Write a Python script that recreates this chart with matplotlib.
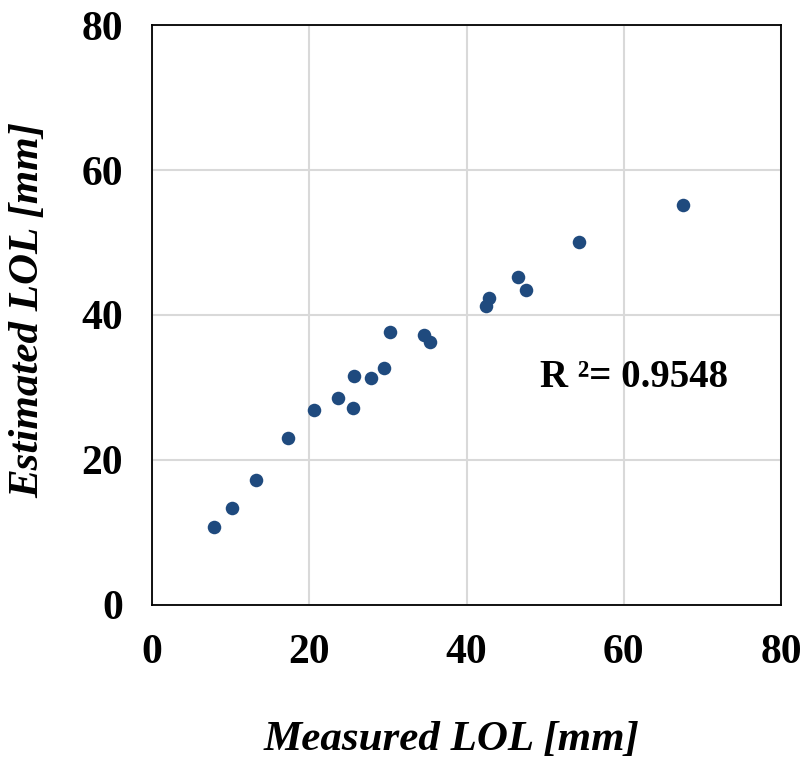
import matplotlib.pyplot as plt

# measured vs estimated LOL (mm)
measured = [7.9, 10.2, 13.2, 17.3, 20.6, 23.7, 25.7, 25.6, 27.8, 29.5,
            30.3, 34.6, 35.4, 42.5, 42.8, 46.6, 47.6, 54.3, 67.5]
estimated = [10.7, 13.4, 17.3, 23.0, 26.9, 28.6, 31.6, 27.2, 31.3, 32.7,
             37.7, 37.2, 36.3, 41.2, 42.3, 45.2, 43.4, 50.1, 55.2]
ticks = [0, 20, 40, 60, 80]
r2_text = "R ²= 0.9548"

plt.rcParams['font.family'] = ['Liberation Serif', 'DejaVu Serif']

fig = plt.figure(figsize=(8.07, 7.65), dpi=100)
ax = fig.add_axes([0.1884, 0.2092, 0.7794, 0.7581])

ax.scatter(measured, estimated, s=95, color='#1f4a7e', zorder=3, linewidths=0)

ax.set_xlim(0, 80)
ax.set_ylim(0, 80)
ax.set_xticks(ticks)
ax.set_yticks(ticks)
ax.grid(True, color='#d9d9d9', linewidth=1.5)
ax.set_axisbelow(True)
for sp in ax.spines.values():
    sp.set_color('black')
    sp.set_linewidth(1.3)
ax.tick_params(length=0, pad=21, labelsize=30)
for lab in ax.get_xticklabels() + ax.get_yticklabels():
    lab.set_fontweight('bold')

ax.text(49.3, 31.4, r2_text, fontsize=28, fontweight='bold', va='center', ha='left')

fig.text(0.56, 0.033, 'Measured LOL [mm]', fontsize=31, fontweight='bold',
         fontstyle='italic', ha='center', va='center')
fig.text(0.035, 0.595, 'Estimated LOL [mm]', fontsize=31, fontweight='bold',
         fontstyle='italic', ha='center', va='center', rotation=90)

fig.savefig('out.png', dpi=100)
